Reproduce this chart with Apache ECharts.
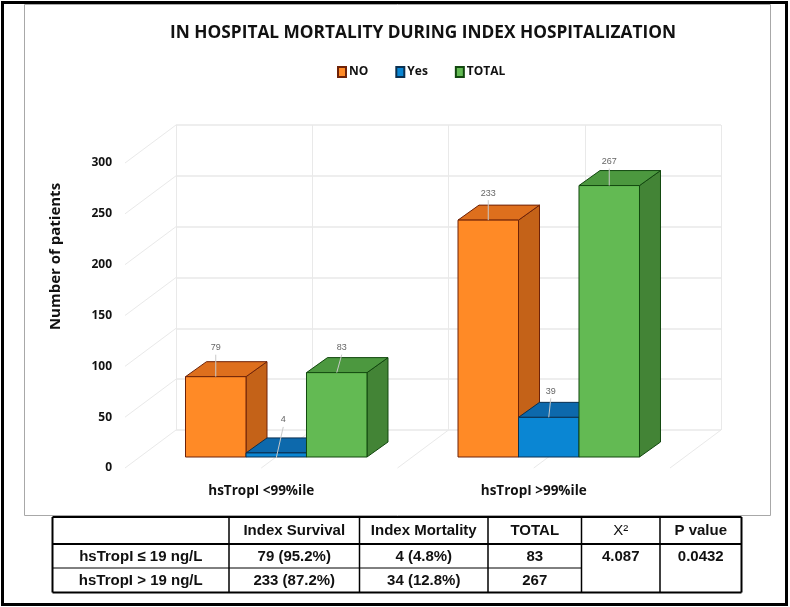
<!DOCTYPE html>
<html><head><meta charset="utf-8">
<style>html,body{margin:0;padding:0;background:#fff}#c{width:790px;height:607px}</style>
<script src="https://cdn.jsdelivr.net/npm/echarts@6/dist/echarts.min.js"></script>
</head><body><div id="c"></div>
<script>
const TITLE = 'IN HOSPITAL MORTALITY DURING INDEX HOSPITALIZATION';
const Y_NAME = 'Number of patients';
const CATEGORIES = ['hsTropI <99%ile', 'hsTropI >99%ile'];
const NO_VALUES = [79, 233];
const YES_VALUES = [4, 39];
const TOTAL_VALUES = [83, 267];
const Y_TICKS = [0, 50, 100, 150, 200, 250, 300];
const TABLE_HEADER = ['', 'Index Survival', 'Index Mortality', 'TOTAL', 'X\u00B2', 'P value'];
const TABLE_ROW_1 = ['hsTropI \u2264 19 ng/L', '79 (95.2%)', '4 (4.8%)', '83', '4.087', '0.0432'];
const TABLE_ROW_2 = ['hsTropI > 19 ng/L', '233 (87.2%)', '34 (12.8%)', '267'];

// styles and layout
const DEPTH = {x: 51, y: -38};       // axis plane to back wall
const BAR_PLANE = {x: 15, y: -11};   // axis plane to front of bars
const BAR_DEPTH = {x: 21, y: -15};
const BAR_RATIO = 0.222;
const PALETTE = {
  NO: {front: '#FF8A26', top: '#DE6F1D', side: '#C46218', edge: '#6e2208'},
  Yes: {front: '#0A86D3', top: '#0D69AC', side: '#0B5E9A', edge: '#0b3050'},
  TOTAL: {front: '#63BA53', top: '#4C983F', side: '#438436', edge: '#12480f'}
};
// label nudges [series][category]
const LABEL_NUDGE = {NO: [0, 0], Yes: [7, 2], TOTAL: [5, 0]};
const LABEL_RISE = {NO: [29, 27], Yes: [33, 26], TOTAL: [25, 24]};
const GRID_COLOR = '#e9e9e9';
const FONT = '"Open Sans"';
const TABLE_FONT = '"Liberation Sans"';

function barSeries(name, values, slot) {
  const pal = PALETTE[name];
  return {
    name, type: 'custom', coordinateSystem: 'cartesian2d', xAxisIndex: 0, yAxisIndex: 0,
    itemStyle: {color: pal.front, borderColor: pal.edge, borderWidth: 1},
    encode: {x: 0, y: 1},
    z: 3 + slot,
    data: values.map((v, i) => [i, v]),
    renderItem(params, api) {
      const i = api.value(0), v = api.value(1);
      const band = api.size([1, 0])[0], w = band * BAR_RATIO;
      const t = api.coord([i, v]), b = api.coord([i, 0]);
      const x0 = t[0] + BAR_PLANE.x + (slot - 1.5) * w, x1 = x0 + w;
      const yT = t[1] + BAR_PLANE.y, yB = b[1] + BAR_PLANE.y;
      const dx = BAR_DEPTH.x, dy = BAR_DEPTH.y;
      const poly = (points, fill) => ({
        type: 'polygon', shape: {points},
        style: {fill, stroke: pal.edge, lineWidth: 1}
      });
      const cx = (x0 + x1) / 2;
      const nudge = LABEL_NUDGE[name][i], rise = LABEL_RISE[name][i];
      const lx = cx + nudge;
      return {
        type: 'group',
        children: [
          poly([[x1, yT], [x1 + dx, yT + dy], [x1 + dx, yB + dy], [x1, yB]], pal.side),
          poly([[x0, yT], [x0 + dx, yT + dy], [x1 + dx, yT + dy], [x1, yT]], pal.top),
          poly([[x0, yT], [x1, yT], [x1, yB], [x0, yB]], pal.front),
          {type: 'line', shape: {x1: cx, y1: yT + (v < 10 ? 5 : 0), x2: lx, y2: yT - rise + 7},
           style: {stroke: '#c9c9c9', lineWidth: 1}},
          {type: 'text', x: lx, y: yT - rise,
           style: {text: String(v), fill: '#666', font: '9px ' + TABLE_FONT, textAlign: 'center', textVerticalAlign: 'middle'}}
        ]
      };
    }
  };
}

const wallLines = {
  name: 'walls', type: 'custom', coordinateSystem: 'cartesian2d', xAxisIndex: 0, yAxisIndex: 0,
  z: 1, silent: true, encode: {x: 0, y: 1},
  data: Y_TICKS.map(v => [0, v]),
  renderItem(params, api) {
    const band = api.size([1, 0])[0];
    const p = api.coord([0, api.value(1)]);
    const x = p[0] - band / 2;
    const seg = (sx, sy) => ({type: 'line',
      shape: {x1: sx, y1: sy, x2: sx + DEPTH.x, y2: sy + DEPTH.y},
      style: {stroke: GRID_COLOR, lineWidth: 1}});
    const kids = [seg(x, p[1])];
    if (api.value(1) === 0) {
      for (let k = 1; k <= 4; k++) kids.push(seg(x + k * band / 2, p[1]));
    }
    return {type: 'group', children: kids};
  }
};

// table
const COLS = [52.5, 229, 359.5, 488, 581.5, 660, 741.5];
const ROWS = [517, 544, 568, 592.5];
function hline(x1, x2, y, w) { return {type: 'line', z: 20, shape: {x1, y1: y, x2, y2: y}, style: {stroke: '#000', lineWidth: w}}; }
function vline(x, y1, y2, w) { return {type: 'line', z: 20, shape: {x1: x, y1, x2: x, y2}, style: {stroke: '#000', lineWidth: w}}; }
function cell(text, col, row, weight) {
  return {type: 'text', z: 21, x: (COLS[col] + COLS[col + 1]) / 2, y: (ROWS[row] + ROWS[row + 1]) / 2 + 0.5,
    style: {text, fill: '#111', font: (weight || 'bold') + ' 15px ' + TABLE_FONT, textAlign: 'center', textVerticalAlign: 'middle'}};
}
const tableEls = [
  hline(COLS[0], COLS[6], ROWS[0], 2), hline(COLS[0], COLS[6], ROWS[1], 2),
  hline(COLS[0], COLS[4], ROWS[2], 1), hline(COLS[0], COLS[6], ROWS[3], 2)
];
COLS.forEach((x, i) => tableEls.push(vline(x, ROWS[0], ROWS[3], (i === 0 || i === 6) ? 2 : 1.5)));
TABLE_HEADER.forEach((t, c) => { if (t) tableEls.push(cell(t, c, 0, c === 4 ? 'normal' : 'bold')); });
TABLE_ROW_1.forEach((t, c) => tableEls.push(cell(t, c, 1)));
TABLE_ROW_2.forEach((t, c) => tableEls.push(cell(t, c, 2)));

const frames = [
  {type: 'rect', z: -1, shape: {x: 24.5, y: 4.5, width: 746, height: 511}, style: {fill: '#fff', stroke: '#a8a8a8', lineWidth: 1}},
  {type: 'rect', z: 30, shape: {x: 2.5, y: 2.5, width: 784, height: 602}, style: {fill: 'none', stroke: '#000', lineWidth: 3}}
];

const chart = echarts.init(document.getElementById('c'), null, {renderer: 'canvas'});
chart.setOption({
  animation: false,
  backgroundColor: '#fff',
  title: {text: TITLE, left: 418, top: 20, textAlign: 'center',
    textStyle: {fontFamily: FONT, fontWeight: 'bold', fontSize: 17.3, color: '#111'}},
  legend: {data: ['NO', 'Yes', 'TOTAL'], left: 337, top: 66, padding: 0, itemWidth: 8, itemHeight: 10, itemGap: 27,
    icon: 'rect', textStyle: {fontFamily: FONT, fontWeight: 'bold', fontSize: 12, color: '#111', padding: [0, 0, 0, -2]}},
  grid: [
    {left: 125, width: 545, top: 163, height: 305},
    {left: 176, width: 545, top: 125, height: 305}
  ],
  xAxis: [
    {type: 'category', gridIndex: 0, data: CATEGORIES, axisLine: {show: false}, axisTick: {show: false},
     axisLabel: {margin: 16, color: '#111', fontFamily: FONT, fontWeight: 'bold', fontSize: 13.5}},
    {type: 'value', gridIndex: 1, min: 0, max: 2, interval: 0.5, axisLine: {show: false}, axisTick: {show: false},
     axisLabel: {show: false}, splitLine: {show: true, lineStyle: {color: GRID_COLOR, width: 1}}}
  ],
  yAxis: [
    {type: 'value', gridIndex: 0, min: 0, max: 300, interval: 50, name: Y_NAME, nameLocation: 'middle', nameGap: 62, nameRotate: 90,
     nameTextStyle: {fontFamily: FONT, fontWeight: 'bold', fontSize: 15, color: '#111', padding: [0, 0, 0, 118]},
     axisLine: {show: false}, axisTick: {show: false}, splitLine: {show: false},
     axisLabel: {margin: 13, color: '#111', fontFamily: FONT, fontWeight: 'bold', fontSize: 12, padding: [4, 0, 0, 0]}},
    {type: 'value', gridIndex: 1, min: 0, max: 300, interval: 50, axisLine: {show: false}, axisTick: {show: false},
     axisLabel: {show: false}, splitLine: {show: true, lineStyle: {color: GRID_COLOR, width: 1.5}}}
  ],
  series: [wallLines, barSeries('NO', NO_VALUES, 0), barSeries('Yes', YES_VALUES, 1), barSeries('TOTAL', TOTAL_VALUES, 2)],
  graphic: {elements: frames.concat(tableEls)}
});
</script></body></html>
